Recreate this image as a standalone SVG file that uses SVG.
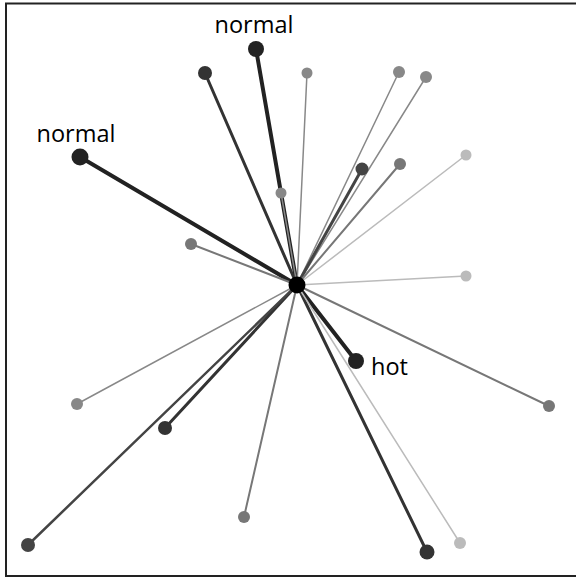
<svg xmlns="http://www.w3.org/2000/svg" width="576" height="578" viewBox="0 0 576 578">
<style>
text{font-family:"Open Sans","Noto Sans",sans-serif;font-size:23.5px;fill:#000}
.e{fill:none;stroke-linecap:round}
</style>
<rect x="0" y="0" width="576" height="578" fill="#fff"/>
<rect x="6" y="3.5" width="580" height="572.5" fill="none" stroke="#222" stroke-width="2"/>
<g id="edges" class="e">
<line x1="297" y1="285" x2="256" y2="49" stroke="#222" stroke-width="4"/>
<line x1="297" y1="285" x2="80" y2="157" stroke="#222" stroke-width="4"/>
<line x1="297" y1="285" x2="205" y2="73" stroke="#333" stroke-width="3"/>
<line x1="297" y1="285" x2="307" y2="73" stroke="#888" stroke-width="1.5"/>
<line x1="297" y1="285" x2="399" y2="72" stroke="#888" stroke-width="1.5"/>
<line x1="297" y1="285" x2="426" y2="77" stroke="#888" stroke-width="1.5"/>
<line x1="297" y1="285" x2="362" y2="169" stroke="#444" stroke-width="3"/>
<line x1="297" y1="285" x2="400" y2="164" stroke="#777" stroke-width="2"/>
<line x1="297" y1="285" x2="466" y2="155" stroke="#bbb" stroke-width="1.5"/>
<line x1="297" y1="285" x2="281" y2="193" stroke="#888" stroke-width="1.5"/>
<line x1="297" y1="285" x2="191" y2="244" stroke="#777" stroke-width="2"/>
<line x1="297" y1="285" x2="466" y2="276" stroke="#bbb" stroke-width="1.5"/>
<line x1="297" y1="285" x2="356" y2="361" stroke="#222" stroke-width="4"/>
<line x1="297" y1="285" x2="549" y2="406" stroke="#777" stroke-width="2"/>
<line x1="297" y1="285" x2="77" y2="404" stroke="#888" stroke-width="1.5"/>
<line x1="297" y1="285" x2="165" y2="428" stroke="#333" stroke-width="3"/>
<line x1="297" y1="285" x2="244" y2="517" stroke="#777" stroke-width="2"/>
<line x1="297" y1="285" x2="28" y2="545" stroke="#444" stroke-width="2.5"/>
<line x1="297" y1="285" x2="427" y2="552" stroke="#333" stroke-width="3"/>
<line x1="297" y1="285" x2="460" y2="543" stroke="#bbb" stroke-width="1.5"/>
</g>
<g id="n1"><circle cx="256" cy="49" r="8" fill="#222"/><text x="254" y="33" text-anchor="middle">normal</text></g>
<g id="n2"><circle cx="80" cy="157" r="8.5" fill="#222"/><text x="76" y="142" text-anchor="middle">normal</text></g>
<g id="n3"><circle cx="205" cy="73" r="7" fill="#333"/></g>
<g id="n4"><circle cx="307" cy="73" r="5.5" fill="#888"/></g>
<g id="n5"><circle cx="399" cy="72" r="6" fill="#888"/></g>
<g id="n6"><circle cx="426" cy="77" r="6" fill="#888"/></g>
<g id="n7"><circle cx="362" cy="169" r="6.5" fill="#444"/></g>
<g id="n8"><circle cx="400" cy="164" r="6" fill="#777"/></g>
<g id="n9"><circle cx="466" cy="155" r="5.5" fill="#bbb"/></g>
<g id="n10"><circle cx="281" cy="193" r="5.5" fill="#888"/></g>
<g id="n11"><circle cx="191" cy="244" r="6" fill="#777"/></g>
<g id="n12"><circle cx="466" cy="276" r="5.5" fill="#bbb"/></g>
<g id="n13"><circle cx="356" cy="361" r="8" fill="#222"/><text x="371" y="375">hot</text></g>
<g id="n14"><circle cx="549" cy="406" r="6" fill="#777"/></g>
<g id="n15"><circle cx="77" cy="404" r="6" fill="#888"/></g>
<g id="n16"><circle cx="165" cy="428" r="7" fill="#333"/></g>
<g id="n17"><circle cx="244" cy="517" r="6" fill="#777"/></g>
<g id="n18"><circle cx="28" cy="545" r="7" fill="#444"/></g>
<g id="n19"><circle cx="427" cy="552" r="7.5" fill="#333"/></g>
<g id="n20"><circle cx="460" cy="543" r="6" fill="#bbb"/></g>
<g id="center"><circle cx="297" cy="285" r="8.5" fill="#000"/></g>
</svg>
